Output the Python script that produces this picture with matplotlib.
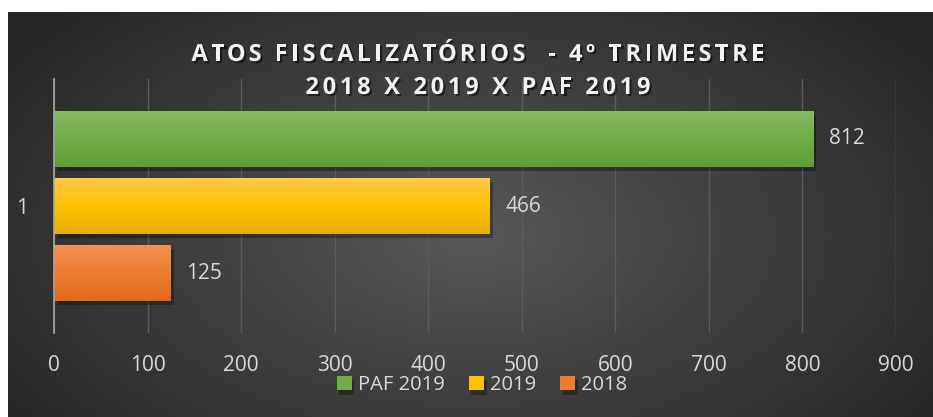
import numpy as np
import matplotlib
matplotlib.use('Agg')
import matplotlib.pyplot as plt
from matplotlib import patheffects as pe
from matplotlib.font_manager import FontProperties

plt.rcParams['font.family'] = ['Open Sans', 'DejaVu Sans']

# ---- data ----
categories = ['1']
series = ['PAF 2019', '2019', '2018']
values = [812, 466, 125]
xticks = [0, 100, 200, 300, 400, 500, 600, 700, 800, 900]
title_lines = ['ATOS FISCALIZATÓRIOS  - 4º TRIMESTRE', '2018 X 2019 X PAF 2019']

# gradient stops per series (top, middle, bottom)
bar_colors = [
    ('#86bd66', '#70ad47', '#5fa036'),
    ('#ffca4c', '#ffc000', '#e6b000'),
    ('#f39257', '#ed7d31', '#e2691c'),
]
TXT = '#d9d9d9'


def hex2rgb(h):
    h = h.lstrip('#')
    return np.array([int(h[i:i + 2], 16) / 255 for i in (0, 2, 4)])


def vgrad(stops, n=60):
    top, mid, bot = [hex2rgb(c) for c in stops]
    t = np.linspace(0, 1, n)[:, None]
    up = top + (mid - top) * np.clip(t * 2, 0, 1)
    col = np.where(t < 0.5, up, mid + (bot - mid) * np.clip(t * 2 - 1, 0, 1))
    return col[:, None, :]


def spaced_text(fig, x, y, s, spacing, fp, **kw):
    """Draw centred text with extra letter spacing (pixels)."""
    r = fig.canvas.get_renderer()
    w = lambda t: r.get_text_width_height_descent(t, fp, ismath=False)[0]
    ref = w('|')
    offs = [0] + [w(s[:i] + '|') - ref for i in range(1, len(s))]
    offs = [o + i * spacing for i, o in enumerate(offs)]
    total = w(s) + spacing * (len(s) - 1)
    W = fig.bbox.width
    x0 = x * W - total / 2
    for ch, o in zip(s, offs):
        if ch == ' ':
            continue
        fig.text((x0 + o) / W, y, ch, fontproperties=fp, color='#f2f2f2',
                 ha='left', va='baseline',
                 path_effects=[pe.SimplePatchShadow(offset=(1.5, -1.5), shadow_rgbFace='k', alpha=0.5),
                               pe.Normal()])


fig = plt.figure(figsize=(9.33, 4.17), dpi=100, facecolor='white')

# background with radial light
bg = fig.add_axes([8 / 933, 0, 925 / 933, 405 / 417])
bg.axis('off')
yy, xx = np.mgrid[0:1:300j, 0:1:600j]
rad = np.clip(np.sqrt(((xx - 0.5) / 0.62) ** 2 + ((yy - 0.55) / 0.8) ** 2), 0, 1)
c_in, c_out = 0x58 / 255, 0x25 / 255
shade = c_in * (1 - rad) + c_out * rad
bg.imshow(np.dstack([shade] * 3), extent=[0, 1, 0, 1], aspect='auto', interpolation='bilinear')
bg.set_xlim(0, 1)
bg.set_ylim(0, 1)

ax = fig.add_axes([54 / 933, 84 / 417, 842 / 933, 254 / 417])
ax.patch.set_alpha(0)

offsets = [-0.264, 0, 0.264]
h = 0.222
for i, (name, v) in enumerate(zip(series, values)):
    y = 1 + offsets[i]
    bars = ax.barh(y, v, height=h, color=bar_colors[i][1], label=name, zorder=3)
    bar = bars[0]
    bar.set_path_effects([pe.SimplePatchShadow(offset=(2, -3), shadow_rgbFace='k', alpha=0.3),
                          pe.Normal()])
    im = ax.imshow(vgrad(bar_colors[i]), extent=[0, v, y + h / 2, y - h / 2],
                   aspect='auto', zorder=4, interpolation='bilinear')
    im.set_clip_path(bar)
    ax.bar_label(bars, padding=11, color=TXT, fontsize=15)

ax.set_xlim(0, 900)
ax.set_ylim(1.5, 0.5)
ax.set_xticks(xticks)
ax.set_yticks([1])
ax.set_yticklabels(categories)
ax.grid(axis='x', color='#5c5c5c', lw=1)
ax.set_axisbelow(True)
for s in ['top', 'right', 'bottom']:
    ax.spines[s].set_visible(False)
ax.spines['left'].set_color('#a6a6a6')
ax.spines['left'].set_linewidth(1.2)
ax.spines['left'].set_zorder(5)
ax.tick_params(axis='x', length=0, pad=16, labelsize=15, labelcolor=TXT)
ax.tick_params(axis='y', length=0, pad=19, labelsize=15, labelcolor=TXT)

fig.legend(loc='center', bbox_to_anchor=(482 / 933, 32 / 417), ncol=3, frameon=False,
           fontsize=14.5, handlelength=0.75, handleheight=0.75, handletextpad=0.3,
           columnspacing=1.2, labelcolor=TXT)

fp = FontProperties(family=['Open Sans', 'DejaVu Sans'], weight='bold', size=17)
spaced_text(fig, 478 / 933, 1 - 61 / 417, title_lines[0], 3.5, fp)
spaced_text(fig, 478 / 933, 1 - 94 / 417, title_lines[1], 3.7, fp)

fig.savefig('out.png', dpi=100, facecolor='white')
